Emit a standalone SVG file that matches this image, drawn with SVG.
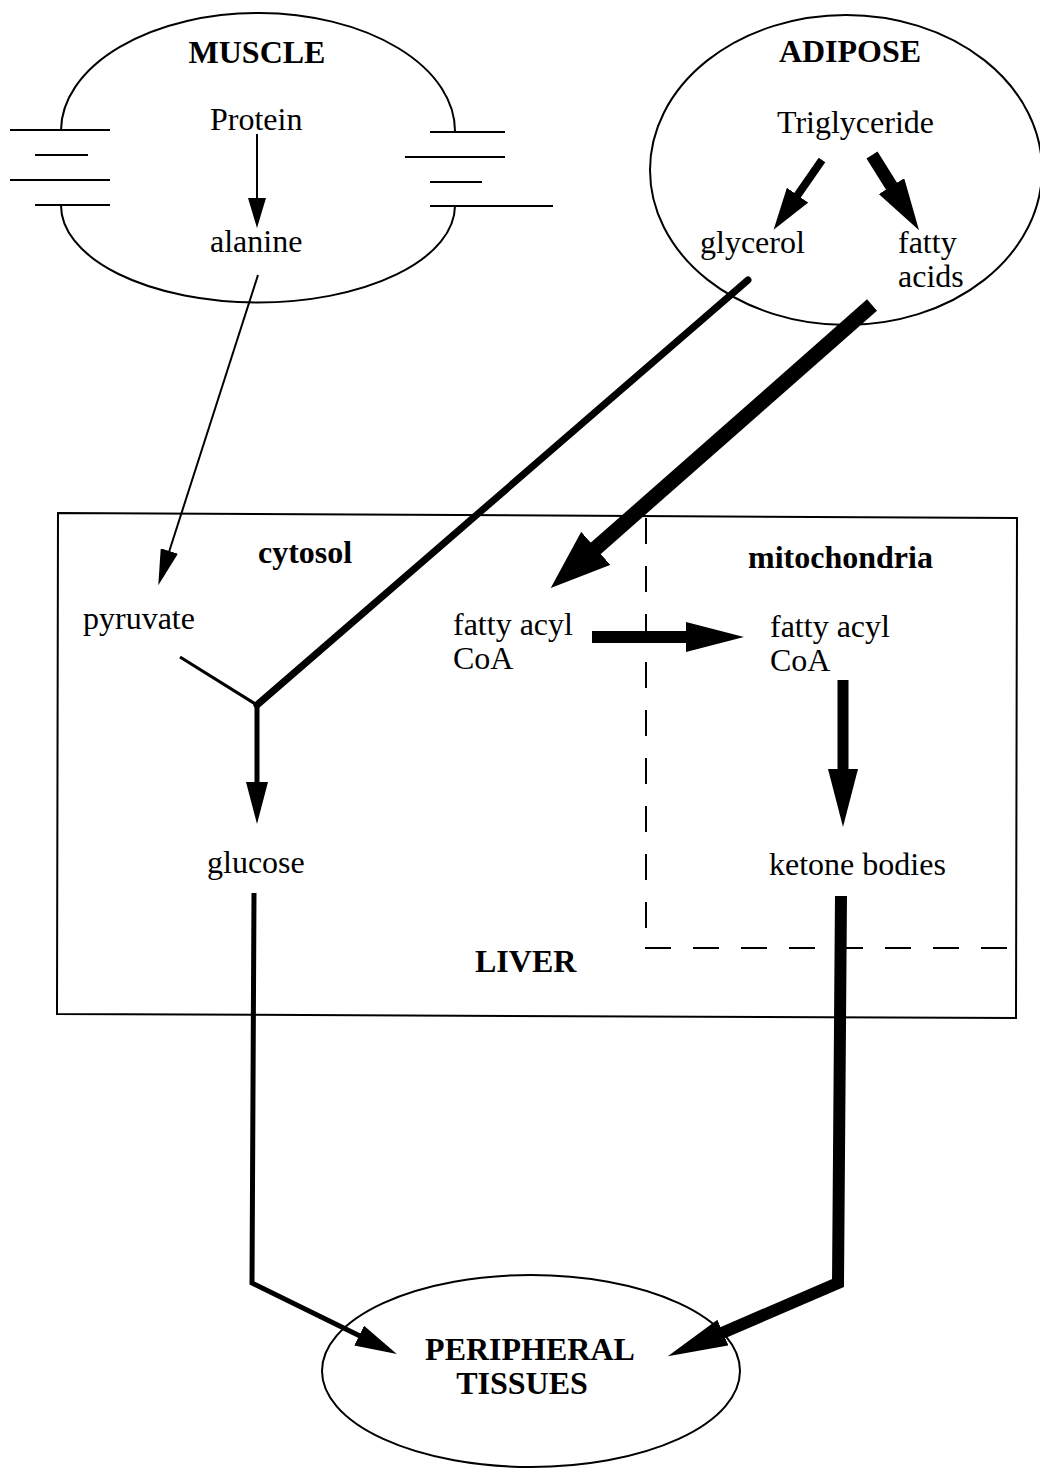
<svg xmlns="http://www.w3.org/2000/svg" width="1040" height="1472" viewBox="0 0 1040 1472">
  <style>
    .outline { fill: none; stroke: #000; stroke-width: 2; }
    .dash { fill: none; stroke: #000; stroke-width: 2; stroke-dasharray: 26 22; }
    .flow { fill: none; stroke: #000; stroke-linejoin: miter; }
    text { font-family: "Liberation Serif", "Times New Roman", serif; font-size: 32px; fill: #000; }
    .title { font-weight: bold; }
  </style>
  <defs>
    <!-- arrowheads start at the shaft end and point forward -->
    <marker id="headThin" markerUnits="userSpaceOnUse" viewBox="0 0 30 18" markerWidth="30" markerHeight="18" refX="1" refY="9" orient="auto">
      <path d="M0,0 L30,9 L0,18 Z" fill="#000"/>
    </marker>
    <marker id="headPyr" markerUnits="userSpaceOnUse" viewBox="0 0 36 18" markerWidth="36" markerHeight="18" refX="1" refY="9" orient="auto">
      <path d="M0,0 L36,9 L0,18 Z" fill="#000"/>
    </marker>
    <marker id="headMed" markerUnits="userSpaceOnUse" viewBox="0 0 42 22" markerWidth="42" markerHeight="22" refX="1" refY="11" orient="auto">
      <path d="M0,0 L42,11 L0,22 Z" fill="#000"/>
    </marker>
    <marker id="headGly" markerUnits="userSpaceOnUse" viewBox="0 0 42 26" markerWidth="42" markerHeight="26" refX="1" refY="13" orient="auto">
      <path d="M0,0 L42,13 L0,26 Z" fill="#000"/>
    </marker>
    <marker id="headFa" markerUnits="userSpaceOnUse" viewBox="0 0 52 30" markerWidth="52" markerHeight="30" refX="1" refY="15" orient="auto">
      <path d="M0,0 L52,15 L0,30 Z" fill="#000"/>
    </marker>
    <marker id="headBig" markerUnits="userSpaceOnUse" viewBox="0 0 58 30" markerWidth="58" markerHeight="30" refX="1" refY="15" orient="auto">
      <path d="M0,0 L58,15 L0,30 Z" fill="#000"/>
    </marker>
    <marker id="headHuge" markerUnits="userSpaceOnUse" viewBox="0 0 60 44" markerWidth="60" markerHeight="44" refX="1" refY="22" orient="auto">
      <path d="M0,0 L60,22 L0,44 Z" fill="#000"/>
    </marker>
    <marker id="headKet" markerUnits="userSpaceOnUse" viewBox="0 0 60 28" markerWidth="60" markerHeight="28" refX="1" refY="14" orient="auto">
      <path d="M0,0 L60,14 L0,28 Z" fill="#000"/>
    </marker>
  </defs>

  <!-- muscle cell: membrane broken by stacked fibres on both sides -->
  <g id="muscle">
    <path class="outline" d="M61,130 A197,118 0 0 1 455,132"/>
    <path class="outline" d="M61,205 A197,97 0 0 0 455,206"/>
    <g class="outline">
      <line x1="10" y1="130" x2="110" y2="130"/>
      <line x1="35" y1="155" x2="88" y2="155"/>
      <line x1="10" y1="180" x2="110" y2="180"/>
      <line x1="35" y1="205" x2="110" y2="205"/>
      <line x1="430" y1="132" x2="505" y2="132"/>
      <line x1="405" y1="157" x2="505" y2="157"/>
      <line x1="430" y1="182" x2="482" y2="182"/>
      <line x1="430" y1="206" x2="553" y2="206"/>
    </g>
    <text class="title" x="257" y="63" text-anchor="middle">MUSCLE</text>
    <text x="210" y="130">Protein</text>
    <text x="210" y="252">alanine</text>
  </g>

  <g id="adipose">
    <ellipse class="outline" cx="846" cy="170" rx="196" ry="155"/>
    <text class="title" x="850" y="62" text-anchor="middle">ADIPOSE</text>
    <text x="777" y="133">Triglyceride</text>
    <text x="700" y="253">glycerol</text>
    <text x="898" y="253">fatty</text>
    <text x="898" y="287">acids</text>
  </g>

  <g id="liver">
    <path class="outline" d="M58,513 L1017,518 L1016,1018 L57,1014 Z"/>
    <line class="dash" x1="646" y1="518" x2="646" y2="932"/>
    <line class="dash" x1="645" y1="948" x2="1016" y2="948"/>
    <text class="title" x="258" y="563">cytosol</text>
    <text class="title" x="748" y="568">mitochondria</text>
    <text class="title" x="475" y="972">LIVER</text>
  </g>

  <g id="pyruvate"><text x="83" y="629">pyruvate</text></g>
  <g id="acyl-coa-cytosol"><text x="453" y="635">fatty acyl</text><text x="453" y="669">CoA</text></g>
  <g id="acyl-coa-mito"><text x="770" y="637">fatty acyl</text><text x="770" y="671">CoA</text></g>
  <g id="glucose"><text x="207" y="873">glucose</text></g>
  <g id="ketone-bodies"><text x="769" y="875">ketone bodies</text></g>

  <g id="peripheral">
    <ellipse class="outline" cx="531" cy="1371" rx="209" ry="96"/>
    <text class="title" x="530" y="1360" text-anchor="middle">PERIPHERAL</text>
    <text class="title" x="522" y="1394" text-anchor="middle">TISSUES</text>
  </g>

  <g id="connectors">
    <path class="flow" stroke-width="2" d="M257,134 L257,199" marker-end="url(#headThin)"/>
    <path class="flow" stroke-width="2" d="M258,275 L169,552" marker-end="url(#headPyr)"/>
    <path class="flow" stroke-width="8" d="M822,160 L797,196" marker-end="url(#headGly)"/>
    <path class="flow" stroke-width="13" d="M872,155 L892,187" marker-end="url(#headFa)"/>
    <path class="flow" stroke-width="7" stroke-linecap="round" d="M748,280 L257,705"/>
    <path class="flow" stroke-width="3" d="M180,657 L257,705"/>
    <path class="flow" stroke-width="5" d="M257,703 L257,783" marker-end="url(#headMed)"/>
    <path class="flow" stroke-width="15" d="M872,305 L595,549" marker-end="url(#headHuge)"/>
    <path class="flow" stroke-width="12" d="M592,637 L687,637" marker-end="url(#headBig)"/>
    <path class="flow" stroke-width="11" d="M843,680 L843,770" marker-end="url(#headBig)"/>
    <path class="flow" stroke-width="5" d="M254,893 L252,1283 L360,1336" marker-end="url(#headMed)"/>
    <path class="flow" stroke-width="12" d="M841,896 L838,1283 L722,1333" marker-end="url(#headKet)"/>
  </g>
</svg>
